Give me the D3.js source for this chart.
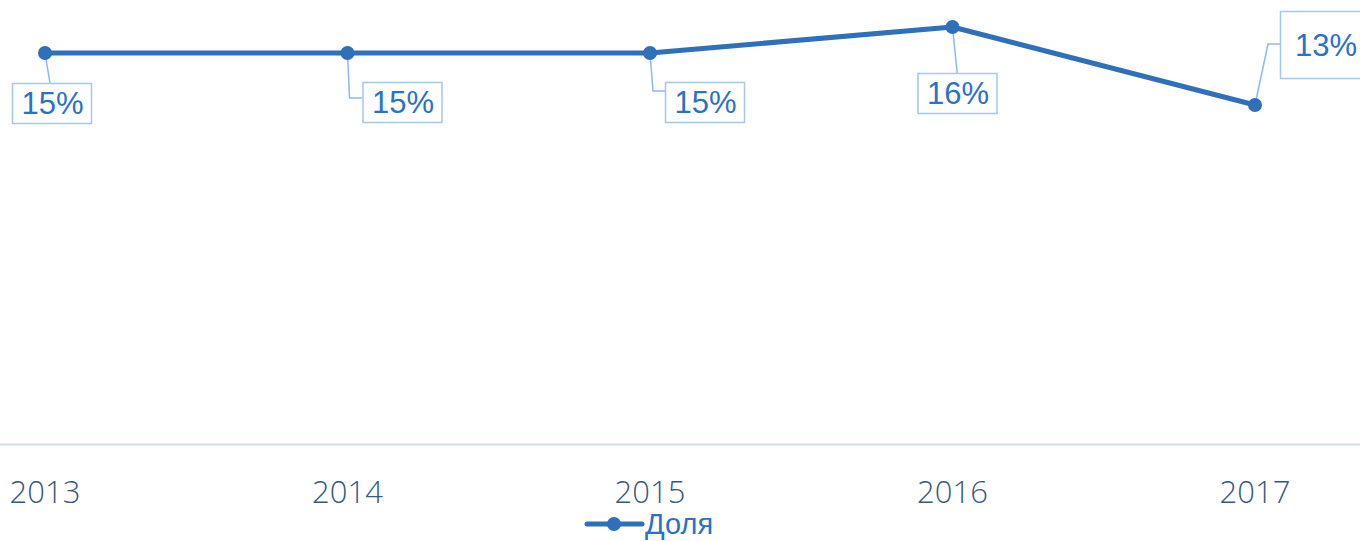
<!DOCTYPE html>
<html>
<head>
<meta charset="utf-8">
<script src="https://cdn.jsdelivr.net/npm/d3@7"></script>
<style>
  body { margin: 0; background: #fff; }
  svg { display: block; }
</style>
</head>
<body>
<svg id="chart" width="1360" height="541"></svg>
<script>
const years = ['2013', '2014', '2015', '2016', '2017'];
const shares = [15, 15, 15, 16, 13];
const seriesName = 'Доля';

// label box placement relative to the point: box left/top, leader elbow
const labelLayout = [
  { bx: -33, by: 30, w: 79, h: 40, elbow: null },
  { bx: 15, by: 29, w: 79, h: 40, elbow: [2, 45] },
  { bx: 15, by: 29, w: 79, h: 40, elbow: [3, 38] },
  { bx: -35, by: 46, w: 79, h: 40, elbow: null },
  { bx: 25, by: -94, w: 90, h: 67, elbow: [13, -61] }
];

const width = 1360, height = 541;
const lineColor = '#2f70ba';
const labelColor = '#2a72c6';
const boxColor = '#a4c8f0';

const svg = d3.select('#chart');

const x = d3.scalePoint().domain(years).range([45, 1255]);
const y = d3.scaleLinear().domain([0, 16]).range([443, 27]);

// axis baseline
svg.append('line')
  .attr('x1', 0).attr('x2', width)
  .attr('y1', 444.5).attr('y2', 444.5)
  .attr('stroke', '#c9dcf1')
  .attr('stroke-width', 2);

// tick labels
svg.append('g')
  .selectAll('text')
  .data(years)
  .join('text')
  .attr('x', d => x(d))
  .attr('y', 503)
  .attr('text-anchor', 'middle')
  .attr('font-family', '"Open Sans", sans-serif')
  .attr('font-weight', 300)
  .attr('font-size', '31px')
  .attr('fill', '#375a80')
  .text(d => d);

const pts = years.map((yr, i) => ({ year: yr, value: shares[i], px: x(yr), py: y(shares[i]), lay: labelLayout[i] }));

// leader lines
svg.append('g')
  .selectAll('path')
  .data(pts)
  .join('path')
  .attr('fill', 'none')
  .attr('stroke', '#8dbaee')
  .attr('stroke-width', 1.5)
  .attr('d', d => {
    const L = d.lay;
    if (!L.elbow) {
      const tx = d.px + L.bx + L.w / 2;
      return `M${d.px},${d.py}L${d.px + (tx - d.px) * 0.15 + 4},${d.py + L.by}`;
    }
    const ex = d.px + L.elbow[0], ey = d.py + L.elbow[1];
    return `M${d.px},${d.py}L${ex},${ey}L${d.px + L.bx},${ey}`;
  });

// series line
const line = d3.line().x(d => d.px).y(d => d.py);
svg.append('path')
  .datum(pts)
  .attr('d', line)
  .attr('fill', 'none')
  .attr('stroke', lineColor)
  .attr('stroke-width', 5)
  .attr('stroke-linejoin', 'round');

svg.append('g')
  .selectAll('circle')
  .data(pts)
  .join('circle')
  .attr('cx', d => d.px)
  .attr('cy', d => d.py)
  .attr('r', 7)
  .attr('fill', lineColor);

// data labels
const lbl = svg.append('g')
  .selectAll('g')
  .data(pts)
  .join('g')
  .attr('transform', d => `translate(${d.px + d.lay.bx},${d.py + d.lay.by})`);

lbl.append('rect')
  .attr('x', 0.5).attr('y', 0.5)
  .attr('width', d => d.lay.w)
  .attr('height', d => d.lay.h)
  .attr('fill', '#fff')
  .attr('stroke', boxColor)
  .attr('stroke-width', 1.5);

lbl.append('text')
  .attr('x', d => d.lay.w / 2 + 1)
  .attr('y', d => d.lay.h / 2 + 11)
  .attr('text-anchor', 'middle')
  .attr('font-family', '"Liberation Sans", Arial, sans-serif')
  .attr('font-size', '31px')
  .attr('fill', labelColor)
  .text(d => `${d.value}%`);

// legend
const lg = svg.append('g').attr('transform', 'translate(587,524)');
lg.append('line')
  .attr('x1', 0).attr('x2', 55)
  .attr('y1', 0).attr('y2', 0)
  .attr('stroke', lineColor)
  .attr('stroke-width', 5)
  .attr('stroke-linecap', 'round');
lg.append('circle')
  .attr('cx', 27).attr('cy', 0).attr('r', 7)
  .attr('fill', lineColor);
lg.append('text')
  .attr('x', 58).attr('y', 10)
  .attr('font-family', '"Liberation Sans", Arial, sans-serif')
  .attr('font-size', '29px')
  .attr('fill', labelColor)
  .text(seriesName);
</script>
</body>
</html>
